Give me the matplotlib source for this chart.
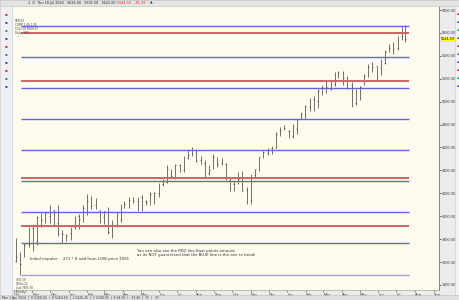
import numpy as np
import pandas as pd
import matplotlib
matplotlib.use("Agg")
import matplotlib.pyplot as plt
import matplotlib.dates as mdates
from matplotlib.patches import Rectangle

# weekly OHLC (week ending dates)
weeks = ["2022-10-07", "2022-10-14", "2022-10-21", "2022-10-28", "2022-11-04", "2022-11-11",
         "2022-11-18", "2022-11-25", "2022-12-02", "2022-12-09", "2022-12-16", "2022-12-23",
         "2022-12-30", "2023-01-06", "2023-01-13", "2023-01-20", "2023-01-27", "2023-02-03",
         "2023-02-10", "2023-02-17", "2023-02-24", "2023-03-03", "2023-03-10", "2023-03-17",
         "2023-03-24", "2023-03-31", "2023-04-06", "2023-04-14", "2023-04-21", "2023-04-28",
         "2023-05-05", "2023-05-12", "2023-05-19", "2023-05-26", "2023-06-02", "2023-06-09",
         "2023-06-16", "2023-06-23", "2023-06-30", "2023-07-07", "2023-07-14", "2023-07-21",
         "2023-07-28", "2023-08-04", "2023-08-11", "2023-08-18", "2023-08-25", "2023-09-01",
         "2023-09-08", "2023-09-15", "2023-09-22", "2023-09-29", "2023-10-06", "2023-10-13",
         "2023-10-20", "2023-10-27", "2023-11-03", "2023-11-10", "2023-11-17", "2023-11-24",
         "2023-12-01", "2023-12-08", "2023-12-15", "2023-12-22", "2023-12-29", "2024-01-05",
         "2024-01-12", "2024-01-19", "2024-01-26", "2024-02-02", "2024-02-09", "2024-02-16",
         "2024-02-23", "2024-03-01", "2024-03-08", "2024-03-15", "2024-03-22", "2024-03-28",
         "2024-04-05", "2024-04-12", "2024-04-19", "2024-04-26", "2024-05-03", "2024-05-10",
         "2024-05-17", "2024-05-24", "2024-05-31", "2024-06-07", "2024-06-14", "2024-06-21",
         "2024-06-28", "2024-07-05", "2024-07-12", "2024-07-18"]
opens = [3609, 3626, 3638, 3754, 3901, 3780, 3982, 3956, 4006, 4052, 3940, 3853, 3843, 3853,
         3910, 3999, 3979, 4055, 4120, 4096, 4053, 3992, 4055, 3855, 3917, 3975, 4102, 4092,
         4137, 4134, 4167, 4136, 4126, 4190, 4200, 4283, 4298, 4396, 4344, 4450, 4404, 4505,
         4543, 4578, 4492, 4464, 4380, 4415, 4510, 4464, 4454, 4316, 4285, 4289, 4327, 4225,
         4140, 4364, 4406, 4511, 4554, 4594, 4593, 4725, 4759, 4745, 4703, 4763, 4853, 4888,
         4957, 5026, 5003, 5093, 5131, 5111, 5154, 5219, 5257, 5218, 5149, 4988, 5115, 5142,
         5225, 5306, 5315, 5297, 5341, 5431, 5459, 5471, 5572, 5614]
highs = [3806, 3685, 3762, 3905, 3911, 4001, 4028, 4034, 4101, 4052, 4101, 3877, 3846, 3907,
         4003, 4016, 4094, 4195, 4176, 4156, 4053, 4048, 4078, 3964, 4039, 4110, 4133, 4164,
         4170, 4170, 4187, 4143, 4212, 4213, 4290, 4322, 4448, 4408, 4458, 4456, 4527, 4578,
         4607, 4584, 4528, 4490, 4451, 4541, 4515, 4511, 4466, 4338, 4311, 4385, 4394, 4259,
         4366, 4415, 4521, 4568, 4595, 4610, 4738, 4778, 4793, 4754, 4802, 4843, 4907, 4975,
         5030, 5048, 5111, 5141, 5189, 5179, 5261, 5264, 5264, 5222, 5168, 5114, 5139, 5239,
         5325, 5342, 5315, 5375, 5447, 5505, 5524, 5570, 5655, 5669]
lows = [3604, 3491, 3647, 3735, 3698, 3751, 3907, 3939, 3941, 3918, 3827, 3764, 3783, 3794,
        3887, 3885, 3949, 4015, 4061, 4060, 3943, 3928, 3847, 3809, 3908, 3951, 4069, 4072,
        4113, 4049, 4048, 4099, 4098, 4103, 4166, 4260, 4290, 4341, 4328, 4385, 4384, 4503,
        4528, 4474, 4458, 4335, 4356, 4414, 4433, 4448, 4317, 4216, 4217, 4284, 4223, 4104,
        4108, 4343, 4393, 4510, 4537, 4546, 4593, 4697, 4751, 4682, 4682, 4714, 4845, 4845,
        4918, 4920, 4946, 5058, 5075, 5104, 5138, 5203, 5146, 5107, 4954, 4969, 5011, 5142,
        5211, 5257, 5191, 5234, 5331, 5430, 5420, 5447, 5540, 5522]
closes = [3640, 3583, 3752, 3901, 3771, 3993, 3965, 4026, 4072, 3934, 3852, 3845, 3840, 3895,
          3999, 3972, 4071, 4136, 4090, 4079, 3970, 4045, 3861, 3917, 3971, 4109, 4105, 4138,
          4133, 4169, 4136, 4124, 4191, 4205, 4282, 4299, 4410, 4348, 4450, 4399, 4505, 4536,
          4582, 4478, 4464, 4370, 4406, 4516, 4457, 4450, 4320, 4288, 4308, 4327, 4224, 4117,
          4358, 4415, 4514, 4559, 4595, 4604, 4719, 4755, 4770, 4697, 4784, 4840, 4891, 4959,
          5027, 5006, 5089, 5137, 5124, 5117, 5234, 5254, 5204, 5123, 4967, 5100, 5128, 5223,
          5303, 5305, 5278, 5347, 5431, 5465, 5460, 5567, 5615, 5544]

low_price = 3491
step_blue = 271
blue_levels = [low_price + step_blue * k for k in range(0, 9)]
red_levels = [3915, 4336, 5182, 5600]
price_ticks = [3400, 3600, 3800, 4000, 4200, 4400, 4600, 4800, 5000, 5200, 5400, 5600, 5800]
last_price = 5544.59

fig = plt.figure(figsize=(4.6, 3.0), dpi=100, facecolor="#ececec")

# main chart area in pixel terms: x 13..439, y 6..290
ax = fig.add_axes([13 / 460, 10 / 300, 426 / 460, 284 / 300])
ax.set_facecolor("#fffbef")

d = pd.to_datetime(weeks) - pd.Timedelta(days=2)
dn = mdates.date2num(d)
ax.vlines(dn, lows, highs, color="#222222", lw=0.45)
ax.hlines(opens, dn - 1.0, dn, color="#222222", lw=0.4)
ax.hlines(closes, dn, dn + 1.0, color="#222222", lw=0.4)

x0 = mdates.date2num(pd.Timestamp("2022-10-13"))
x1 = mdates.date2num(pd.Timestamp("2024-07-22"))
for i, lv in enumerate(blue_levels):
    c = "#a4a4d8" if i == 0 else "#6464dc"
    ax.hlines(lv, x0, x1, color=c, lw=1.0)
for lv in red_levels:
    ax.hlines(lv, x0, x1, color="#cc6666", lw=1.4)

ax.set_xlim(mdates.date2num(pd.Timestamp("2022-09-30")), mdates.date2num(pd.Timestamp("2024-09-10")))
ax.set_ylim(3356, 5835)

ax.yaxis.tick_right()
ax.set_yticks(price_ticks)
ax.set_yticklabels(["%.2f" % v for v in price_ticks], fontsize=2.4, color="#333333")
ax.tick_params(axis="y", length=1.2, width=0.4, pad=0.8)
ax.xaxis.set_major_locator(mdates.MonthLocator())
ax.xaxis.set_major_formatter(mdates.DateFormatter("%b"))
ax.tick_params(axis="x", labelsize=2.6, length=1.5, width=0.4, pad=0.5, colors="#333333")
for lab in ax.get_xticklabels():
    lab.set_horizontalalignment("left")
for s in ["top", "left"]:
    ax.spines[s].set_visible(False)
ax.spines["right"].set_color("#777777")
ax.spines["right"].set_linewidth(0.6)
ax.spines["bottom"].set_color("#aaaaaa")
ax.spines["bottom"].set_linewidth(0.5)

# current price box
ax.annotate("%.2f" % last_price, xy=(1.0, last_price), xycoords=("axes fraction", "data"),
            xytext=(1.5, 0), textcoords="offset points", fontsize=2.4, va="center",
            bbox=dict(boxstyle="square,pad=0.15", fc="#ffff00", ec="none"), annotation_clip=False)

# notes on the chart
ax.text(0.04, 0.105, "Initial impulse", transform=ax.transAxes, fontsize=2.8, color="#333333")
ax.text(0.118, 0.105, "271 * 8 add from LOW price 3491", transform=ax.transAxes, fontsize=2.8,
        color="#333333")
ax.text(0.292, 0.118, "You can also see the RED line float points amount\n"
        "as its NOT guaranteed that the BLUE line is the one to break",
        transform=ax.transAxes, fontsize=2.8, color="#333333", linespacing=1.1)
ax.text(0.004, 0.955, "SPX500\nCOMP 1.00 1.00\n5522.00 5669.67\nDaily  SPX\n  ~",
        transform=ax.transAxes, fontsize=2.0, color="#444444", va="top", linespacing=1.05)
ax.text(x0 - 8, 3462, "3491.58\n13/Oct/22\nLow 3491.58\n(Weekly)", fontsize=1.9,
        color="#444444", va="top", linespacing=1.0)

# top bar
fig.add_artist(Rectangle((0, 294 / 300), 1, 6 / 300, transform=fig.transFigure, fc="#e4e4e4",
                         ec="#bbbbbb", lw=0.4))
fig.text(28 / 460, 297 / 300, "1  D  Thu 18 Jul 2024   5626.00   5631.50   5522.00",
         fontsize=2.4, va="center", color="#222222")
fig.text(117 / 460, 297 / 300, "5544.59   -81.33", fontsize=2.4, va="center", color="#d03030")
fig.text(150 / 460, 297 / 300, "\u25b2", fontsize=2.4, va="center", color="#222222")

# status bar
fig.add_artist(Rectangle((0, 0), 1, 5 / 300, transform=fig.transFigure, fc="#e0e0e0",
                         ec="#bbbbbb", lw=0.4))
fig.text(2 / 460, 2.3 / 300, "Mon 1 Apr 2024  |  O 5208.00  |  H 5264.50  |  L 5226.25  |"
         "  C 5248.00  |  6.34.00  |  -33.40  |  75  |   37", fontsize=2.2, va="center",
         color="#333333")

# side toolbars
fig.add_artist(Rectangle((0, 5 / 300), 12 / 460, 289 / 300, transform=fig.transFigure,
                         fc="#eef0f4", ec="#c8c8c8", lw=0.4))
fig.add_artist(Rectangle((455 / 460, 5 / 300), 5 / 460, 289 / 300, transform=fig.transFigure,
                         fc="#f2f2f2", ec="#c8c8c8", lw=0.4))
icon_cols = ["#c03030", "#3050b0", "#30a050", "#3050b0", "#c03030", "#6060a0", "#3050b0",
             "#c03030", "#309050", "#3050b0"]
for i, c in enumerate(icon_cols):
    fig.text(6 / 460, (286 - 8 * i) / 300, "\u25aa", fontsize=3, color=c, ha="center",
             va="center")
    fig.text(457.8 / 460, (286 - 8 * i) / 300, "\u25aa", fontsize=2.5, color=c, ha="center",
             va="center")

fig.savefig("out.png", dpi=100, facecolor=fig.get_facecolor())
